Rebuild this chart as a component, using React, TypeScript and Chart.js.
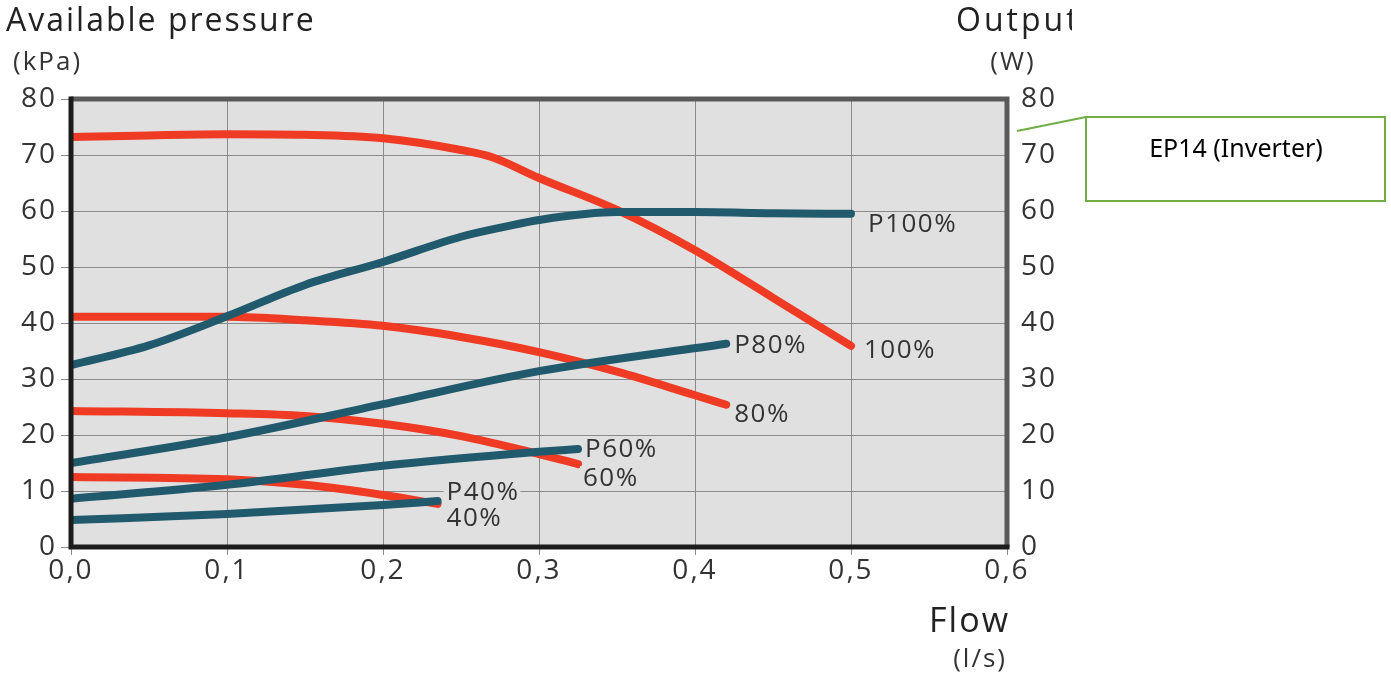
import React, { useEffect, useRef } from "react";
import { Chart, registerables } from "chart.js";

Chart.register(...registerables);

// Flow (l/s) sample points for each curve
const flow100 = [0, 0.05, 0.1, 0.15, 0.2, 0.25, 0.27, 0.3, 0.35, 0.4, 0.45, 0.5];
const pressure100 = [73.2, 73.5, 73.7, 73.6, 73.0, 70.9, 69.6, 65.9, 60.2, 53.0, 44.5, 35.9];

const flowP100 = [0, 0.05, 0.1, 0.15, 0.2, 0.25, 0.28, 0.3, 0.35, 0.4, 0.45, 0.5];
const outputP100 = [32.5, 36.0, 41.2, 46.8, 50.9, 55.4, 57.3, 58.4, 59.8, 59.8, 59.6, 59.5];

const flow80 = [0, 0.1, 0.15, 0.2, 0.25, 0.3, 0.35, 0.4, 0.42];
const pressure80 = [41.1, 41.1, 40.5, 39.5, 37.5, 34.8, 31.3, 27.1, 25.4];

const flowP80 = [0, 0.1, 0.2, 0.3, 0.42];
const outputP80 = [15.0, 19.6, 25.5, 31.4, 36.3];

const flow60 = [0, 0.1, 0.15, 0.2, 0.25, 0.3, 0.325];
const pressure60 = [24.3, 23.9, 23.4, 22.0, 19.8, 16.6, 14.8];

const flowP60 = [0, 0.1, 0.2, 0.3, 0.325];
const outputP60 = [8.6, 11.1, 14.5, 17.0, 17.5];

const flow40 = [0, 0.1, 0.15, 0.2, 0.235];
const pressure40 = [12.5, 12.1, 11.1, 9.3, 7.7];

const flowP40 = [0, 0.1, 0.2, 0.235];
const outputP40 = [4.8, 5.9, 7.5, 8.2];

const curveLabels = ["100%", "P100%", "80%", "P80%", "60%", "P60%", "40%", "P40%"];
const flowTicks = [0, 0.1, 0.2, 0.3, 0.4, 0.5, 0.6];
const pressureTicks = [0, 10, 20, 30, 40, 50, 60, 70, 80];

const BLUE = "#215a6d";
const RED = "#ef3b24";
const FONT = "'Open Sans', 'DejaVu Sans', sans-serif";

function pts(xs: number[], ys: number[]) {
  return xs.map((x, i) => ({ x, y: ys[i] }));
}

// label offsets relative to the curve end point (px)
const labelOffsets: Record<string, [number, number]> = {
  "100%": [13, 4],
  "P100%": [17, 10],
  "80%": [8, 9],
  "P80%": [8, 1],
  "60%": [5, 13],
  "P60%": [7, 0],
  "40%": [9, 14],
  "P40%": [9, -9],
};

export default function App() {
  const ref = useRef<HTMLCanvasElement | null>(null);

  useEffect(() => {
    const canvas = ref.current;
    if (!canvas) return;
    document.body.style.margin = "0";

    const series = [
      { label: "100%", data: pts(flow100, pressure100), color: RED },
      { label: "P100%", data: pts(flowP100, outputP100), color: BLUE },
      { label: "80%", data: pts(flow80, pressure80), color: RED },
      { label: "P80%", data: pts(flowP80, outputP80), color: BLUE },
      { label: "60%", data: pts(flow60, pressure60), color: RED },
      { label: "P60%", data: pts(flowP60, outputP60), color: BLUE },
      { label: "40%", data: pts(flow40, pressure40), color: RED },
      { label: "P40%", data: pts(flowP40, outputP40), color: BLUE },
    ];
    const ordered = [
      series[1], series[3], series[5], series[7],
      series[0], series[2], series[4], series[6],
    ];

    const bgPlugin = {
      id: "bg",
      beforeDraw(chart: any) {
        const { ctx, chartArea: a } = chart;
        ctx.save();
        ctx.fillStyle = "#ffffff";
        ctx.fillRect(0, 0, chart.width, chart.height);
        ctx.fillStyle = "#e0e0e0";
        ctx.fillRect(a.left, a.top, a.right - a.left, a.bottom - a.top);
        ctx.restore();
        (ctx as any).letterSpacing = "2px";
      },
      afterDatasetsDraw(chart: any) {
        const { ctx, chartArea: a } = chart;
        ctx.save();
        ctx.lineCap = "butt";
        ctx.lineWidth = 5;
        ctx.strokeStyle = "#5a5a5a";
        ctx.beginPath();
        ctx.moveTo(a.left, a.top);
        ctx.lineTo(a.right, a.top);
        ctx.lineTo(a.right, a.bottom);
        ctx.stroke();
        ctx.strokeStyle = "#1c1c1c";
        ctx.beginPath();
        ctx.moveTo(a.left, a.top - 2.5);
        ctx.lineTo(a.left, a.bottom);
        ctx.lineTo(a.right + 2.5, a.bottom);
        ctx.stroke();

        // curve end labels
        const xs = chart.scales.x;
        const ys = chart.scales.y;
        ctx.font = `26px ${FONT}`;
        (ctx as any).letterSpacing = "1.5px";
        ctx.textAlign = "left";
        ctx.textBaseline = "middle";
        chart.data.datasets.forEach((ds: any) => {
          const last = ds.data[ds.data.length - 1];
          const off = labelOffsets[ds.label] || [8, 0];
          const px = xs.getPixelForValue(last.x) + off[0];
          const py = ys.getPixelForValue(last.y) + off[1];
          if (curveLabels.includes(ds.label)) {
            const w = ctx.measureText(ds.label).width;
            ctx.fillStyle = "#e0e0e0";
            ctx.fillRect(px - 3, py - 11, w + 4, 22);
            ctx.fillStyle = "#333333";
            ctx.fillText(ds.label, px, py + 1);
          }
        });
        ctx.restore();
      },
      afterDraw(chart: any) {
        const { ctx, chartArea: a } = chart;
        ctx.save();
        (ctx as any).letterSpacing = "2px";
        ctx.fillStyle = "#222222";
        ctx.textBaseline = "middle";
        ctx.textAlign = "left";
        ctx.font = `32px ${FONT}`;
        ctx.fillText("Available pressure", 6, 22);
        ctx.font = `26px ${FONT}`;
        ctx.fillStyle = "#333333";
        ctx.fillText("(kPa)", 13, 63);

        // Output (clipped at the edge of the original picture)
        ctx.save();
        ctx.beginPath();
        ctx.rect(900, 0, 172, 50);
        ctx.clip();
        (ctx as any).letterSpacing = "3px";
        ctx.font = `32px ${FONT}`;
        ctx.fillStyle = "#222222";
        ctx.fillText("Output", 956, 22);
        ctx.restore();
        ctx.font = `26px ${FONT}`;
        ctx.fillStyle = "#333333";
        ctx.textAlign = "center";
        ctx.fillText("(W)", 1013, 63);

        ctx.textAlign = "right";
        ctx.font = `34px ${FONT}`;
        ctx.fillStyle = "#222222";
        ctx.fillText("Flow", a.right + 3, 622);
        ctx.font = `26px ${FONT}`;
        ctx.fillStyle = "#333333";
        ctx.fillText("(l/s)", a.right + 0, 660);

        // callout
        (ctx as any).letterSpacing = "0px";
        ctx.strokeStyle = "#70ad47";
        ctx.lineWidth = 2;
        ctx.beginPath();
        ctx.moveTo(1017, 131);
        ctx.lineTo(1086, 117);
        ctx.stroke();
        ctx.strokeRect(1086, 117, 299, 84);
        ctx.fillStyle = "#000000";
        ctx.textAlign = "center";
        ctx.font = `25px 'Noto Sans', 'Open Sans', sans-serif`;
        ctx.fillText("EP14 (Inverter)", 1236, 150);
        ctx.restore();
      },
    };

    const tickFont = { family: FONT, size: 28 };

    const chart = new Chart(canvas, {
      type: "line",
      data: {
        datasets: ordered.map((s) => ({
          label: s.label,
          data: s.data,
          borderColor: s.color,
          backgroundColor: s.color,
          borderWidth: 8,
          borderCapStyle: "round",
          borderJoinStyle: "round",
          pointRadius: 0,
          cubicInterpolationMode: "monotone",
          fill: false,
        })),
      } as any,
      options: {
        responsive: false,
        animation: false,
        layout: { padding: { left: 0, right: 334, top: 99, bottom: 90 } },
        plugins: {
          legend: { display: false },
          tooltip: { enabled: false },
        },
        scales: {
          x: {
            type: "linear",
            min: 0,
            max: 0.6,
            afterBuildTicks: (s: any) => {
              s.ticks = flowTicks.map((v) => ({ value: v }));
            },
            ticks: {
              font: tickFont,
              color: "#333333",
              padding: -1,
              maxRotation: 0,
              callback: (v: any) => Number(v).toFixed(1).replace(".", ","),
            },
            grid: { color: "#8a8a8a", lineWidth: 1, tickLength: 8, drawOnChartArea: true },
            border: { display: false },
            afterFit: (s: any) => {
              s.height = 42;
            },
          },
          y: {
            position: "left",
            min: 0,
            max: 80,
            afterBuildTicks: (s: any) => {
              s.ticks = pressureTicks.map((v) => ({ value: v }));
            },
            ticks: { font: tickFont, color: "#333333", padding: 4 },
            grid: { color: "#8a8a8a", lineWidth: 1, tickLength: 10, drawOnChartArea: true },
            border: { display: false },
            afterFit: (s: any) => {
              s.width = 71;
            },
          },
          y2: {
            position: "right",
            min: 0,
            max: 80,
            afterBuildTicks: (s: any) => {
              s.ticks = pressureTicks.map((v) => ({ value: v }));
            },
            ticks: { font: tickFont, color: "#333333", padding: 6 },
            grid: { display: false },
            border: { display: false },
            afterFit: (s: any) => {
              s.width = 50;
            },
          },
        },
      } as any,
      plugins: [bgPlugin],
    });

    return () => chart.destroy();
  }, []);

  return (
    <div style={{ position: "fixed", left: 0, top: 0, width: 1391, height: 679, background: "#fff" }}>
      <canvas ref={ref} width={1391} height={679} style={{ display: "block" }} />
    </div>
  );
}
